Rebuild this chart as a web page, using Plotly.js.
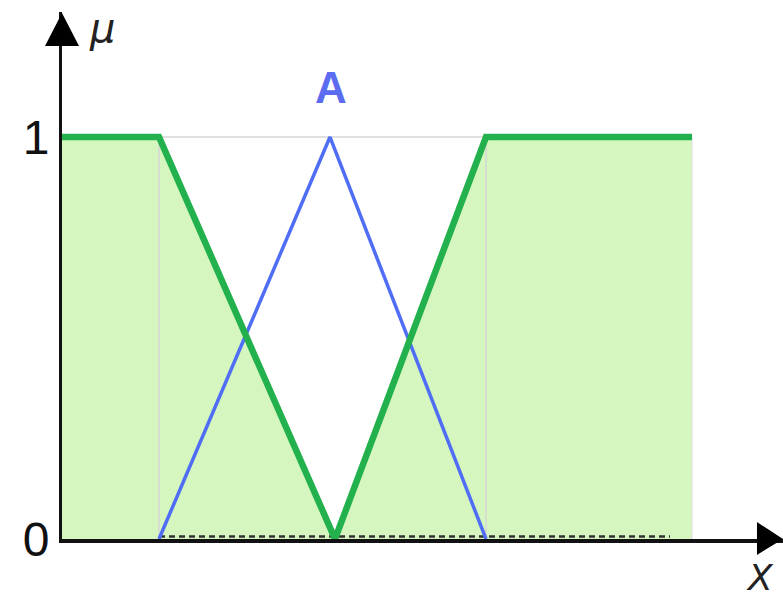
<!DOCTYPE html>
<html>
<head>
<meta charset="utf-8">
<script src="https://cdn.plot.ly/plotly-3.0.1.min.js"></script>
<style>html,body{margin:0;padding:0;background:#fff;}#chart{width:783px;height:599px;}</style>
</head>
<body>
<div id="chart"></div>
<script>
// Complement of fuzzy set A (green) and set A (blue triangle)
var complementX = [0, 0.97, 2.73, 4.24, 6.30];
var complementY = [1, 1, 0, 1, 1];
var setAX = [0.97, 2.68, 4.24];
var setAY = [0, 1, 0];
var guideX = [0.97, 0.97, 4.24, 4.24];
var guideY = [0, 1, 1, 0];
var rightEdgeX = [6.30, 6.30];
var rightEdgeY = [0, 1];
var baseDashX = [0.97, 6.08];
var baseDashY = [0.006, 0.006];
var yTickVals = [0, 1];
var yTickText = ['0', '1'];

var traces = [
  {x: complementX, y: complementY, mode: 'lines', fill: 'tozeroy', fillcolor: '#d5f7bf',
   line: {width: 0, color: '#d5f7bf'}, hoverinfo: 'skip', showlegend: false},
  {x: guideX, y: guideY, mode: 'lines', line: {color: '#d6d6d6', width: 1.5}, hoverinfo: 'skip', showlegend: false},
  {x: rightEdgeX, y: rightEdgeY, mode: 'lines', line: {color: '#e4e4e4', width: 1.5}, hoverinfo: 'skip', showlegend: false},
  {x: baseDashX, y: baseDashY, mode: 'lines', line: {color: '#333', width: 2.5, dash: '6px,4px'}, hoverinfo: 'skip', showlegend: false},
  {x: setAX, y: setAY, mode: 'lines', line: {color: '#4f6df5', width: 3.5}, showlegend: false},
  {x: complementX, y: complementY, mode: 'lines', line: {color: '#22b14c', width: 6.5, shape: 'linear'}, showlegend: false}
];

var layout = {
  width: 783, height: 599,
  margin: {l: 62, r: 0, t: 12, b: 60},
  paper_bgcolor: '#fff', plot_bgcolor: '#fff',
  showlegend: false,
  xaxis: {range: [0, 7.21], showgrid: false, zeroline: false, showticklabels: false, ticks: '',
          showline: true, linecolor: '#111', linewidth: 3.5, fixedrange: true},
  yaxis: {range: [0, 1.311], showgrid: false, zeroline: false, tickvals: yTickVals, ticktext: yTickText,
          ticks: '', ticklabelstandoff: 0,
          tickfont: {family: 'Liberation Sans, Arial, sans-serif', size: 48, color: '#111'},
          showline: true, linecolor: '#111', linewidth: 3, fixedrange: true},
  shapes: [
    {type: 'path', xref: 'paper', yref: 'paper', path: 'M -0.0236 0.9355 L 0 0.9981 L 0.0236 0.9355 Z',
     fillcolor: '#000', line: {width: 0}},
    {type: 'path', xref: 'paper', yref: 'paper', path: 'M 0.9639 0.0321 L 1 0 L 0.9639 -0.0302 Z',
     fillcolor: '#000', line: {width: 0}}
  ],
  annotations: [
    {xref: 'paper', yref: 'paper', x: (102 - 62) / 721, y: (539 - 28) / 527, text: '<i>μ</i>', showarrow: false,
     font: {family: 'DejaVu Sans, sans-serif', size: 40, color: '#222'}, xanchor: 'center', yanchor: 'middle'},
    {xref: 'x', yref: 'paper', x: 2.69, y: (539 - 87) / 527, text: '<b>A</b>', showarrow: false,
     font: {family: 'Liberation Sans, Arial, sans-serif', size: 44, color: '#5b6cf0'}, xanchor: 'center', yanchor: 'middle'},
    {xref: 'paper', yref: 'paper', x: (760 - 62) / 721, y: (539 - 577) / 527, text: '<i>X</i>', showarrow: false,
     font: {family: 'DejaVu Sans, sans-serif', size: 36, color: '#222'}, xanchor: 'center', yanchor: 'middle'}
  ]
};

Plotly.newPlot('chart', traces, layout, {displayModeBar: false, staticPlot: true});
</script>
</body>
</html>
